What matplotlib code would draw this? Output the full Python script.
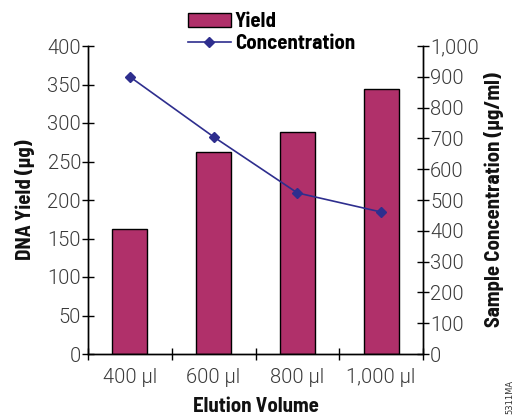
import matplotlib
matplotlib.use("Agg")
import matplotlib.pyplot as plt
from matplotlib.ticker import FuncFormatter
import numpy as np

categories = ["400 µl", "600 µl", "800 µl", "1,000 µl"]
yield_ug = [162, 262, 288, 344]
concentration = [900, 705, 523, 461]

bar_color = "#B0306A"
line_color = "#2E2E8E"
tick_color = "#3A3A3A"

cond = ["Barlow Semi Condensed", "Barlow Condensed", "DejaVu Sans"]
light = ["Roboto", "DejaVu Sans"]

fig = plt.figure(figsize=(5.16, 4.18), dpi=100)
ax = fig.add_axes([88/516, 1-354/418, (423-88)/516, (354-46)/418])
ax2 = ax.twinx()

x = np.arange(len(categories))
bars = ax.bar(x, yield_ug, width=0.42, color=bar_color, edgecolor="black", linewidth=1.0, zorder=2, label="Yield")
line, = ax2.plot(x, concentration, color=line_color, marker="D", markersize=5, linewidth=1.2, label="Concentration", zorder=3)

ax.set_xlim(-0.5, len(categories)-0.5)
ax.set_ylim(0, 400)
ax2.set_ylim(0, 1000)
ax.set_yticks(np.arange(0, 401, 50))
ax2.set_yticks(np.arange(0, 1001, 100))
ax2.yaxis.set_major_formatter(FuncFormatter(lambda v, p: f"{int(v):,}"))

ax.set_xticks(x)
ax.set_xticklabels(categories)
ax.set_xticks(np.arange(-0.5, len(categories), 1), minor=True)
ax.tick_params(axis="x", which="major", length=0, pad=10)
ax.tick_params(axis="x", which="minor", direction="inout", length=8, width=1)

for a in (ax, ax2):
    a.spines["top"].set_visible(False)
    for s in a.spines.values():
        s.set_linewidth(1.0)
ax.tick_params(axis="y", direction="inout", length=8, width=1, pad=1)
ax2.tick_params(axis="y", direction="inout", length=8, width=1, pad=1)

for lab in ax.get_xticklabels() + ax.get_yticklabels() + ax2.get_yticklabels():
    lab.set_fontfamily(light)
    lab.set_fontweight(300)
    lab.set_fontsize(14.5)
    lab.set_color(tick_color)

lab_kw = dict(fontsize=15, fontweight="bold", family=cond, color="#111111")
ax.set_ylabel("DNA Yield (µg)", labelpad=9, **lab_kw)
ax2.set_ylabel("Sample Concentration (µg/ml)", labelpad=4, **lab_kw)
ax.set_xlabel("Elution Volume", labelpad=7, **lab_kw)

fig.legend([bars, line], ["Yield", "Concentration"], loc="upper left",
           bbox_to_anchor=(188/516, 1-12/418), frameon=False, handlelength=2.05,
           handleheight=0.65, handletextpad=0.2, labelspacing=0.15,
           borderpad=0, borderaxespad=0,
           prop={"family": cond, "weight": "bold", "size": 15})

fig.text(510/516, 1-397/418, "5311MA", rotation=90, fontsize=6, ha="center", va="center", color="#333333")

fig.savefig("out.png", dpi=100)
